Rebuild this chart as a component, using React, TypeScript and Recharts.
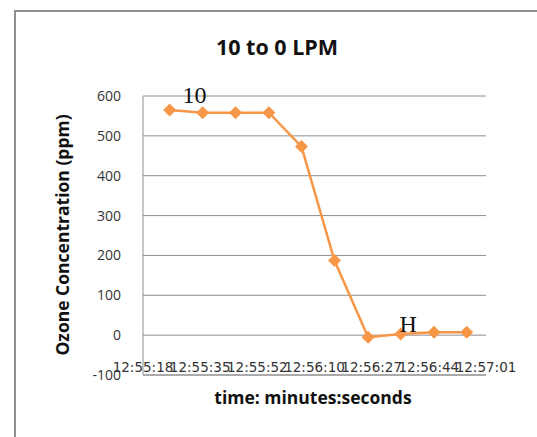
import React from "react";
import {
  LineChart,
  Line,
  XAxis,
  YAxis,
  CartesianGrid,
  ReferenceDot,
} from "recharts";

// seconds elapsed since 12:55:18
const sampleSeconds = [8, 17.9, 27.8, 37.8, 47.6, 57.5, 67.6, 77.4, 87.4, 97.2];
const ozonePpm = [565, 558, 558, 558, 473, 187, -5, 3, 7, 7];

const xTickValues = [0, 17.17, 34.33, 51.5, 68.67, 85.83, 103];
const xTickLabels = ["12:55:18", "12:55:35", "12:55:52", "12:56:10", "12:56:27", "12:56:44", "12:57:01"];
const yTickValues = [-100, 0, 100, 200, 300, 400, 500, 600];

const annotationTexts = ["10", "H"];
const annotationSeconds = [15.5, 79.6];
const annotationPpm = [583, 8];

const chartTitle = "10 to 0 LPM";
const xTitle = "time: minutes:seconds";
const yTitle = "Ozone Concentration (ppm)";

const data = sampleSeconds.map((t, i) => ({ t, ppm: ozonePpm[i] }));

const ORANGE = "#f79646";

const Diamond = (props: any) => {
  const { cx, cy } = props;
  if (cx == null || cy == null) return null;
  const r = 6.5;
  return (
    <polygon
      points={`${cx},${cy - r} ${cx + r},${cy} ${cx},${cy + r} ${cx - r},${cy}`}
      fill={ORANGE}
      stroke="none"
    />
  );
};

const XTick = (props: any) => {
  const { x, y, payload } = props;
  const idx = xTickValues.indexOf(payload.value);
  return (
    <text
      x={x}
      y={y - 3}
      textAnchor="middle"
      style={{ fontFamily: "'DejaVu Sans', sans-serif", fontSize: "13.5px" }}
      fill="#333"
    >
      {idx >= 0 ? xTickLabels[idx] : ""}
    </text>
  );
};

const makeAnnotationLabel = (text: string) => (props: any) => {
  const { viewBox } = props;
  const cx = viewBox.x + (viewBox.width || 0) / 2;
  const cy = viewBox.y + (viewBox.height || 0) / 2;
  return (
    <text
      x={cx}
      y={cy}
      textAnchor="middle"
      fontFamily="'Liberation Serif', serif"
      fontSize={24}
      fill="#111"
    >
      {text}
    </text>
  );
};

export default function App() {
  return (
    <div style={{ position: "absolute", left: 0, top: 0, width: 537, height: 437, background: "#fff", overflow: "hidden" }}>
      <div
        style={{
          position: "absolute",
          left: 14,
          top: 10,
          width: 600,
          height: 500,
          borderLeft: "2px solid #8f8f8f",
          borderTop: "2px solid #8f8f8f",
        }}
      />
      <div style={{ position: "absolute", left: 0, top: 0 }}>
        <LineChart
          width={537}
          height={437}
          data={data}
          margin={{ top: 96, right: 51, bottom: 32, left: 83 }}
        >
          <CartesianGrid vertical={false} stroke="#8e8e8e" strokeWidth={1} />
          <XAxis
            type="number"
            dataKey="t"
            domain={[0, 103]}
            ticks={xTickValues}
            interval={0}
            height={30}
            tickSize={0}
            tickMargin={0}
            tickLine={false}
            axisLine={{ stroke: "#8e8e8e" }}
            tick={<XTick />}
            allowDataOverflow
          />
          <YAxis
            type="number"
            domain={[-100, 600]}
            ticks={yTickValues}
            interval={0}
            width={60}
            tickSize={0}
            tickMargin={22}
            tickLine={false}
            axisLine={{ stroke: "#8e8e8e" }}
            tick={{ fill: "#333", fontSize: 14, fontFamily: "'Open Sans', sans-serif" }}
            allowDataOverflow
          />
          <Line
            type="linear"
            dataKey="ppm"
            stroke={ORANGE}
            strokeWidth={2.5}
            dot={<Diamond />}
            activeDot={false}
            isAnimationActive={false}
          />
          {annotationTexts.map((txt, i) => (
            <ReferenceDot
              key={txt}
              x={annotationSeconds[i]}
              y={annotationPpm[i]}
              r={0}
              fill="none"
              stroke="none"
              label={{ content: makeAnnotationLabel(txt) }}
            />
          ))}
        </LineChart>
      </div>
      <svg
        width={537}
        height={437}
        style={{ position: "absolute", left: 0, top: 0, pointerEvents: "none" }}
      >
        <text
          x={277}
          y={55}
          textAnchor="middle"
          fontFamily="'Open Sans', sans-serif"
          fontWeight="bold"
          fontSize={21.5}
          fill="#111"
        >
          {chartTitle}
        </text>
        <text
          x={313}
          y={404}
          textAnchor="middle"
          fontFamily="'Open Sans', sans-serif"
          fontWeight="bold"
          fontSize={17.5}
          fill="#111"
        >
          {xTitle}
        </text>
        <text
          transform="translate(68.5,235) rotate(-90)"
          x={0}
          y={0}
          textAnchor="middle"
          fontFamily="'Open Sans', sans-serif"
          fontWeight="bold"
          fontSize={17.5}
          fill="#111"
        >
          {yTitle}
        </text>
      </svg>
    </div>
  );
}
